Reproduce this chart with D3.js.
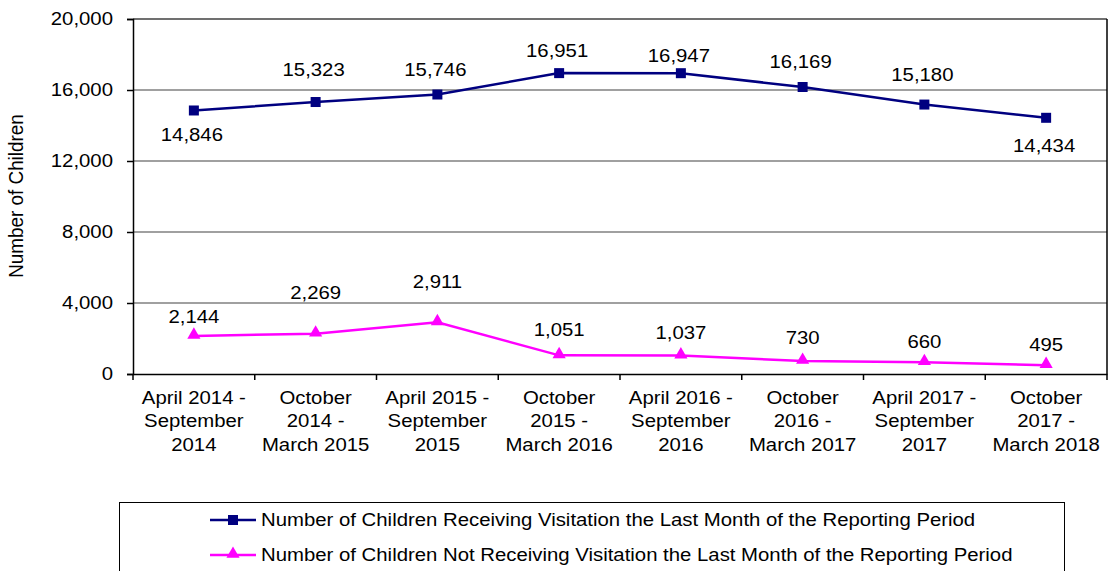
<!DOCTYPE html>
<html>
<head>
<meta charset="utf-8">
<script src="https://cdn.jsdelivr.net/npm/d3@7"></script>
<style>
  body { margin: 0; background: #fff; }
  svg text { font-family: "Liberation Sans", Arial, sans-serif; fill: #000; }
</style>
</head>
<body>
<svg id="chart" width="1109" height="571"></svg>
<script>
const periods = [
  ["April 2014 -", "September", "2014"],
  ["October", "2014 -", "March 2015"],
  ["April 2015 -", "September", "2015"],
  ["October", "2015 -", "March 2016"],
  ["April 2016 -", "September", "2016"],
  ["October", "2016 -", "March 2017"],
  ["April 2017 -", "September", "2017"],
  ["October", "2017 -", "March 2018"]
];
const receiving = [14846, 15323, 15746, 16951, 16947, 16169, 15180, 14434];
const notReceiving = [2144, 2269, 2911, 1051, 1037, 730, 660, 495];
const yTicks = [0, 4000, 8000, 12000, 16000, 20000];
const seriesNames = [
  "Number of Children Receiving Visitation the Last Month of the Reporting Period",
  "Number of Children Not Receiving Visitation the Last Month of the Reporting Period"
];

// label nudges (px, relative to point) to mimic the hand-placed labels
const recvLabelDy = [31, -26, -19, -16, -11, -19, -24, 34];
const notLabelDy = [-13, -35, -34, -19, -17, -17, -14, -14];

const svg = d3.select("#chart");
const margin = {left: 133, right: 2, top: 19, bottom: 197};
const W = 1109, H = 571;
const fs = 18.5;
const sx = 1.1; // the source chart's text is a little wide

const x = d3.scaleBand().domain(d3.range(periods.length)).range([margin.left, W - margin.right]);
const y = d3.scaleLinear().domain([0, 20000]).range([H - margin.bottom, margin.top]);
const cx = i => x(i) + x.bandwidth() / 2;

// text placed with a transform so it can be widened
function label(parent, data, px, py, txt, anchor) {
  const g = parent.append("g").selectAll("g").data(data).join("g")
    .attr("transform", (d, i) => `translate(${px(d, i)},${py(d, i)}) scale(${sx},1)`);
  g.append("text").attr("text-anchor", anchor || "middle").attr("font-size", fs).text(txt);
  return g;
}

// gridlines
svg.append("g").selectAll("line").data(yTicks.filter(d => d > 0)).join("line")
  .attr("x1", margin.left).attr("x2", W - margin.right)
  .attr("y1", d => y(d)).attr("y2", d => y(d))
  .attr("stroke", d => d === 20000 ? "#404040" : "#808080").attr("stroke-width", 1.5);

// right border
svg.append("line").attr("x1", W - margin.right).attr("x2", W - margin.right)
  .attr("y1", y(20000)).attr("y2", y(0)).attr("stroke", "#000").attr("stroke-width", 1.5);

// y axis
const yAxis = svg.append("g").attr("transform", `translate(${margin.left},0)`)
  .call(d3.axisLeft(y).tickValues(yTicks).tickSize(6).tickPadding(14).tickFormat(d3.format(",")));
yAxis.selectAll("path, line").attr("stroke", "#000").attr("stroke-width", 1.5);
yAxis.selectAll("text").attr("font-size", fs).attr("font-family", "Liberation Sans, Arial").attr("fill", "#000")
  .attr("x", 0).attr("transform", `translate(-20,0) scale(${sx},1)`);

// x axis
const xAxis = svg.append("g").attr("transform", `translate(0,${y(0)})`)
  .call(d3.axisBottom(x).tickSize(0).tickFormat(""));
xAxis.select("path").attr("stroke", "#000").attr("stroke-width", 1.5);
xAxis.selectAll(".tick").remove();
svg.append("g").selectAll("line").data(d3.range(periods.length + 1)).join("line")
  .attr("x1", i => margin.left + i * x.step()).attr("x2", i => margin.left + i * x.step())
  .attr("y1", y(0)).attr("y2", y(0) + 6).attr("stroke", "#000").attr("stroke-width", 1.5);

const cats = svg.append("g").selectAll("g").data(periods).join("g")
  .attr("transform", (d, i) => `translate(${cx(i)},${y(0) + 30}) scale(${sx},1)`);
cats.append("text").attr("text-anchor", "middle").attr("font-size", fs)
  .selectAll("tspan").data(d => d).join("tspan")
  .attr("x", 0).attr("dy", (d, j) => j === 0 ? 0 : 23.5).text(d => d);

// y title
svg.append("text").attr("transform", `translate(23,196) rotate(-90) scale(1.02,${sx})`)
  .attr("text-anchor", "middle").attr("font-size", fs).text("Number of Children");

const line = d3.line().x((d, i) => cx(i)).y(d => y(d));
const fmt = d3.format(",");

// receiving series
svg.append("path").datum(receiving).attr("d", line)
  .attr("fill", "none").attr("stroke", "#000080").attr("stroke-width", 2.5);
svg.append("g").selectAll("rect").data(receiving).join("rect")
  .attr("x", (d, i) => cx(i) - 5).attr("y", d => y(d) - 5)
  .attr("width", 10).attr("height", 10).attr("fill", "#000080");
label(svg, receiving, (d, i) => cx(i) - 2, (d, i) => y(d) + recvLabelDy[i], d => fmt(d));

// not receiving series
const tri = d3.symbol().type(d3.symbolTriangle).size(75);
svg.append("path").datum(notReceiving).attr("d", line)
  .attr("fill", "none").attr("stroke", "#FF00FF").attr("stroke-width", 2.5);
svg.append("g").selectAll("path").data(notReceiving).join("path")
  .attr("d", tri).attr("transform", (d, i) => `translate(${cx(i)},${y(d) - 1})`)
  .attr("fill", "#FF00FF");
label(svg, notReceiving, (d, i) => cx(i), (d, i) => y(d) + notLabelDy[i], d => fmt(d));

// legend
const lg = svg.append("g");
lg.append("rect").attr("x", 119.5).attr("y", 502.5).attr("width", 945).attr("height", 80)
  .attr("fill", "#fff").attr("stroke", "#000").attr("stroke-width", 1);
const rows = lg.selectAll("g.row").data(seriesNames).join("g").attr("class", "row")
  .attr("transform", (d, i) => `translate(0,${520 + i * 35})`);
rows.append("line").attr("x1", 210).attr("x2", 256).attr("y1", 0).attr("y2", 0)
  .attr("stroke", (d, i) => i === 0 ? "#000080" : "#FF00FF").attr("stroke-width", 2.5);
rows.each(function(d, i) {
  const g = d3.select(this);
  if (i === 0) g.append("rect").attr("x", 228).attr("y", -5).attr("width", 10).attr("height", 10).attr("fill", "#000080");
  else g.append("path").attr("d", tri).attr("transform", "translate(233,-1)").attr("fill", "#FF00FF");
});
rows.append("g").attr("transform", `translate(261,6) scale(${sx},1)`)
  .append("text").attr("font-size", fs).text(d => d);
</script>
</body>
</html>
